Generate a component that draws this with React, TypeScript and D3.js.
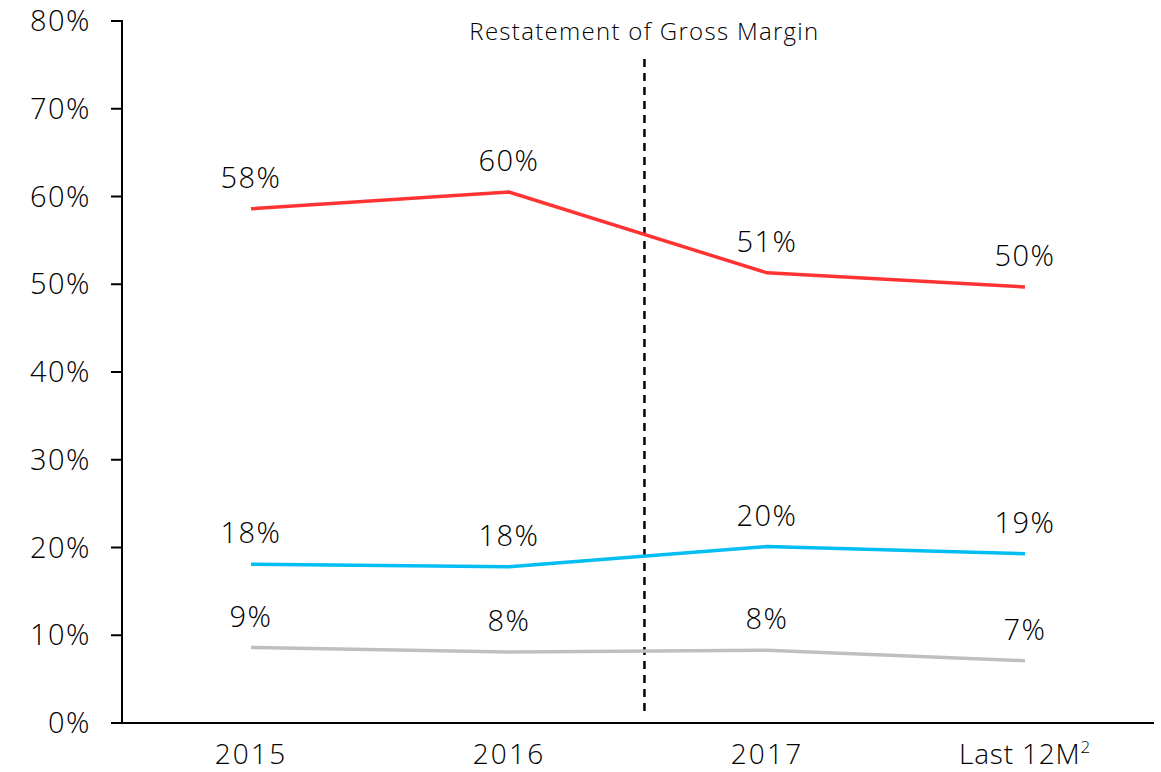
import React from "react";
import * as d3 from "d3";

const categories = ["2015", "2016", "2017", "Last 12M"];
const grossMargin = [58.6, 60.5, 51.3, 49.7];
const grossLabels = ["58%", "60%", "51%", "50%"];
const ebitMargin = [18.1, 17.8, 20.1, 19.3];
const ebitLabels = ["18%", "18%", "20%", "19%"];
const netMargin = [8.6, 8.1, 8.3, 7.1];
const netLabels = ["9%", "8%", "8%", "7%"];
const yTicks = [0, 10, 20, 30, 40, 50, 60, 70, 80];
const annotation = "Restatement of Gross Margin";

const W = 1161, H = 772;
const m = { left: 122, right: 1154, top: 21, bottom: 723 };
const font = "'Open Sans', sans-serif";

export default function App() {
  const x = d3.scaleBand<string>().domain(categories).range([m.left, m.right]);
  const y = d3.scaleLinear().domain([0, 80]).range([m.bottom, m.top]);
  const cx = (c: string) => (x(c) as number) + x.bandwidth() / 2;
  const line = d3.line<number>().x((_, i) => cx(categories[i])).y((v) => y(v));
  const series = [
    { vals: grossMargin, labels: grossLabels, color: "#FF3333" },
    { vals: ebitMargin, labels: ebitLabels, color: "#00BDF2" },
    { vals: netMargin, labels: netLabels, color: "#BFBFBF" },
  ];
  const divX = cx(categories[1]) + x.step() * 0.525;
  return (
    <svg width={W} height={H} style={{ position: "absolute", left: 0, top: 0, fontFamily: font, fontWeight: 300 }}>
      <rect width={W} height={H} fill="#fff" />
      <line x1={m.left} x2={m.left} y1={m.top - 1} y2={m.bottom} stroke="#000" strokeWidth={2} />
      <line x1={m.left - 11} x2={m.right} y1={m.bottom} y2={m.bottom} stroke="#000" strokeWidth={2} />
      {yTicks.map((t) => (
        <g key={t}>
          <line x1={m.left - 11} x2={m.left} y1={y(t)} y2={y(t)} stroke="#000" strokeWidth={2} />
          <text x={91} y={y(t) + 10} textAnchor="end" fontSize={29} letterSpacing={1.5} fill="#000">{t}%</text>
        </g>
      ))}
      {categories.map((c) => (
        <text key={c} x={cx(c)} y={764} textAnchor="middle" fontSize={28} letterSpacing={c === "Last 12M" ? 0.8 : 2.2} fill="#000">
          {c}
          {c === "Last 12M" && <tspan dy={-11} fontSize={17}>2</tspan>}
        </text>
      ))}
      <line x1={divX} x2={divX} y1={59} y2={716} stroke="#000" strokeWidth={2.5} strokeDasharray="8,6" />
      <text x={divX} y={40} textAnchor="middle" fontSize={24} letterSpacing={1.3} fill="#000">{annotation}</text>
      {series.map((s, si) => (
        <g key={si}>
          <path d={line(s.vals) || ""} fill="none" stroke={s.color} strokeWidth={3.5} />
          {s.vals.map((v, i) => (
            <text key={i} x={cx(categories[i])} y={y(v) - 21} textAnchor="middle" fontSize={29} letterSpacing={1.5} fill="#000">
              {s.labels[i]}
            </text>
          ))}
        </g>
      ))}
    </svg>
  );
}
